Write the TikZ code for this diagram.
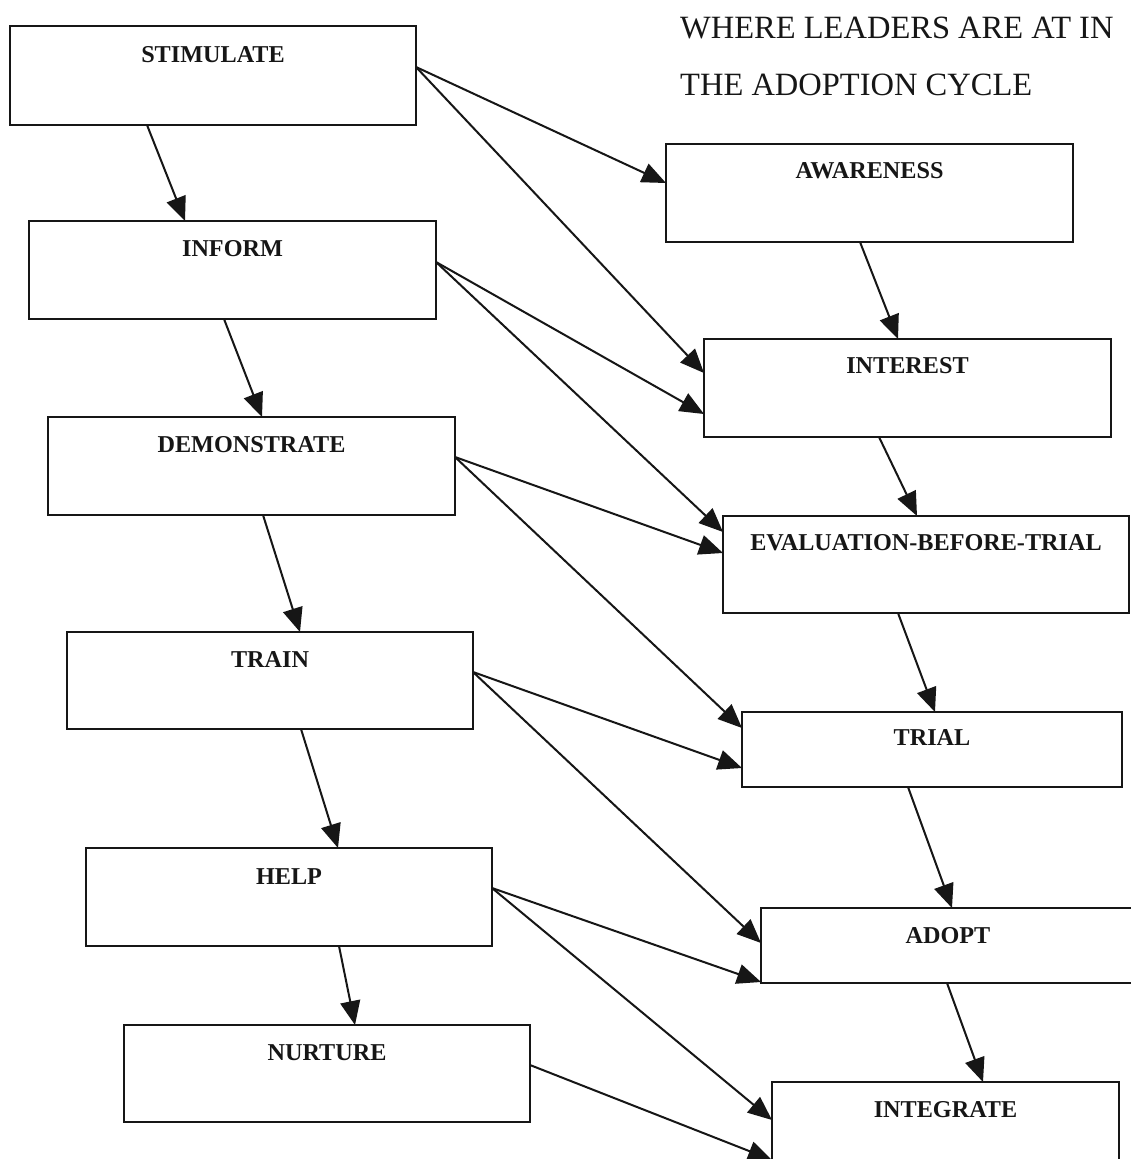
\documentclass[tikz,border=0pt]{standalone}
\usepackage{fontspec}
\setmainfont{Liberation Serif}
\usetikzlibrary{calc,arrows.meta}
\definecolor{ink}{HTML}{161616}
\begin{document}
\begin{tikzpicture}[x=1pt,y=-1pt,
  box/.style={draw=ink, line width=2.3pt, rectangle, outer sep=0pt, inner sep=0pt, fill=none},
  lbl/.style={anchor=base, inner sep=0pt, text=ink, font=\fontsize{24.2}{28}\selectfont\bfseries},
  ttl/.style={anchor=base west, inner sep=0pt, text=ink, font=\fontsize{32.5}{36}\selectfont},
  arr/.style={draw=ink, line width=2pt, -{Triangle[length=24pt,width=20pt]}}]
\useasboundingbox[fill=white] (0,0) rectangle (1130,1159);

% title
\node[ttl] (t1) at (680,38) {WHERE LEADERS ARE AT IN};
\node[ttl] (t2) at (680,95) {THE ADOPTION CYCLE};

% left column: leader actions
\node[box, minimum width=406, minimum height=99] (stim)  at (213,75.5) {};
\node[box, minimum width=407, minimum height=98] (inform) at (232.5,270) {};
\node[box, minimum width=407, minimum height=98] (demo)  at (251.5,466) {};
\node[box, minimum width=406, minimum height=97] (train) at (270,680.5) {};
\node[box, minimum width=406, minimum height=98] (help)  at (289,897) {};
\node[box, minimum width=406, minimum height=97] (nurt)  at (327,1073.5) {};

% right column: adoption stages
\node[box, minimum width=407, minimum height=98] (aware) at (869.5,193) {};
\node[box, minimum width=407, minimum height=98] (inter) at (907.5,388) {};
\node[box, minimum width=406, minimum height=97] (eval)  at (926,564.5) {};
\node[box, minimum width=380, minimum height=75] (trial) at (932,749.5) {};
\node[box, minimum width=374, minimum height=75] (adopt) at (948,945.5) {};
\node[box, minimum width=347, minimum height=98] (integ) at (945.5,1131) {};

% labels
\node[lbl] (stim-t)   at ($(stim.north)+(0,36)$) {STIMULATE};
\node[lbl] (inform-t) at ($(inform.north)+(0,35)$) {INFORM};
\node[lbl] (demo-t)   at ($(demo.north)+(0,35)$) {DEMONSTRATE};
\node[lbl] (train-t)  at ($(train.north)+(0,35)$) {TRAIN};
\node[lbl] (help-t)   at ($(help.north)+(0,36)$) {HELP};
\node[lbl] (nurt-t)   at ($(nurt.north)+(0,35)$) {NURTURE};
\node[lbl] (aware-t)  at ($(aware.north)+(0,34)$) {AWARENESS};
\node[lbl] (inter-t)  at ($(inter.north)+(0,34)$) {INTEREST};
\node[lbl] (eval-t)   at ($(eval.north)+(0,34)$) {EVALUATION-BEFORE-TRIAL};
\node[lbl] (trial-t)  at ($(trial.north)+(0,33)$) {TRIAL};
\node[lbl] (adopt-t)  at ($(adopt.north)+(0,35)$) {ADOPT};
\node[lbl] (integ-t)  at ($(integ.north)+(0,35)$) {INTEGRATE};

% connectors down the left column
\draw[arr] ($(stim.north west)+(137,99)$)   -- ($(inform.north west)+(156,0)$);
\draw[arr] ($(inform.north west)+(195,98)$) -- ($(demo.north west)+(214,0)$);
\draw[arr] ($(demo.north west)+(215,98)$)   -- ($(train.north west)+(233,0)$);
\draw[arr] ($(train.north west)+(234,97)$)  -- ($(help.north west)+(252,0)$);
\draw[arr] ($(help.north west)+(253,98)$)   -- ($(nurt.north west)+(231,0)$);

% connectors down the right column
\draw[arr] ($(aware.north west)+(194,98)$) -- ($(inter.north west)+(194,0)$);
\draw[arr] ($(inter.north west)+(175,98)$) -- ($(eval.north west)+(194,0)$);
\draw[arr] ($(eval.north west)+(175,97)$)  -- ($(trial.north west)+(193,0)$);
\draw[arr] ($(trial.north west)+(166,75)$) -- ($(adopt.north west)+(191,0)$);
\draw[arr] ($(adopt.north west)+(186,75)$) -- ($(integ.north west)+(211,0)$);

% connectors across
\draw[arr] ($(stim.north west)+(406,41)$)   -- ($(aware.north west)+(0,39)$);
\draw[arr] ($(stim.north west)+(406,41)$)   -- ($(inter.north west)+(0,34)$);
\draw[arr] ($(inform.north west)+(407,41)$) -- ($(inter.north west)+(0,75)$);
\draw[arr] ($(inform.north west)+(407,41)$) -- ($(eval.north west)+(0,16)$);
\draw[arr] ($(demo.north west)+(407,40)$)   -- ($(eval.north west)+(0,37)$);
\draw[arr] ($(demo.north west)+(407,40)$)   -- ($(trial.north west)+(0,16)$);
\draw[arr] ($(train.north west)+(406,40)$)  -- ($(trial.north west)+(0,56)$);
\draw[arr] ($(train.north west)+(406,40)$)  -- ($(adopt.north west)+(0,35)$);
\draw[arr] ($(help.north west)+(406,40)$)   -- ($(adopt.north west)+(0,74)$);
\draw[arr] ($(help.north west)+(406,40)$)   -- ($(integ.north west)+(0,38)$);
\draw[arr] ($(nurt.north west)+(406,40)$)   -- ($(integ.north west)+(0,78)$);
\end{tikzpicture}
\end{document}
